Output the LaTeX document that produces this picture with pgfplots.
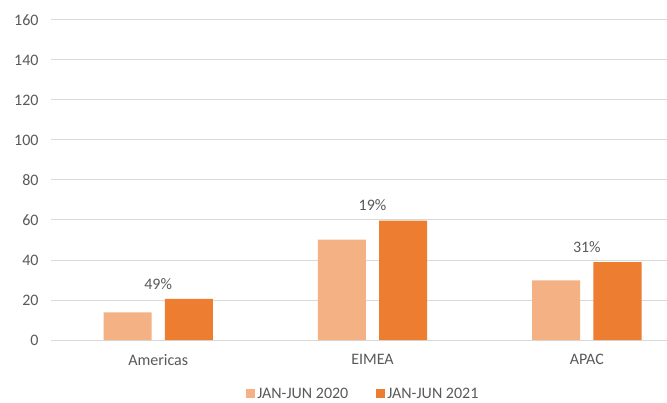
\documentclass[border=0pt]{standalone}
\usepackage{pgfplots}
\pgfplotsset{compat=1.18}
\usepackage{fontspec}
\setmainfont{Carlito}
\definecolor{lightor}{HTML}{F4B183}
\definecolor{darkor}{HTML}{ED7D31}
\definecolor{txt}{HTML}{595959}
\definecolor{grd}{HTML}{D9D9D9}
\newcommand{\cf}{\fontsize{16bp}{19bp}\selectfont}
\begin{document}
\begin{tikzpicture}
\path[use as bounding box] (-51bp,-63bp) rectangle (616bp,340bp);
\begin{axis}[
  at={(0,0)}, anchor=south west,
  scale only axis, width=616bp, height=320bp,
  xmin=-0.5, xmax=2.374, ymin=0, ymax=160,
  ytick={0,20,...,160},
  xtick={0,1,2}, xticklabels={Americas,EIMEA,APAC},
  axis line style={draw=none},
  tick style={draw=none},
  ymajorgrids, grid style={grd, line width=1bp},
  /pgf/number format/assume math mode=true,
  every tick label/.append style={font=\cf, text=txt},
  yticklabel style={xshift=-9bp},
  xticklabel style={yshift=-11bp},
  legend style={at={(0.507,-0.168)}, anchor=center, draw=none, fill=none,
    legend columns=2, font=\cf, text=txt,
    /tikz/every even column/.append style={column sep=26bp}},
  legend image code/.code={\fill[#1] (0bp,-4.5bp) rectangle (9bp,4.5bp);},
  clip=false,
]
\addplot[ybar, bar width=0.224, bar shift=-0.143, fill=lightor, draw=none]
  coordinates {(0,13.8) (1,50.2) (2,29.8)};
\addlegendentry{JAN-JUN 2020}
\addplot[ybar, bar width=0.224, bar shift=0.143, fill=darkor, draw=none,
  point meta=explicit symbolic, nodes near coords,
  every node near coord/.append style={font=\cf, text=txt, anchor=south, yshift=6bp}]
  coordinates {(0,20.6) [49\%] (1,59.7) [19\%] (2,39.0) [31\%]};
\addlegendentry{JAN-JUN 2021}
\end{axis}
\end{tikzpicture}
\end{document}
